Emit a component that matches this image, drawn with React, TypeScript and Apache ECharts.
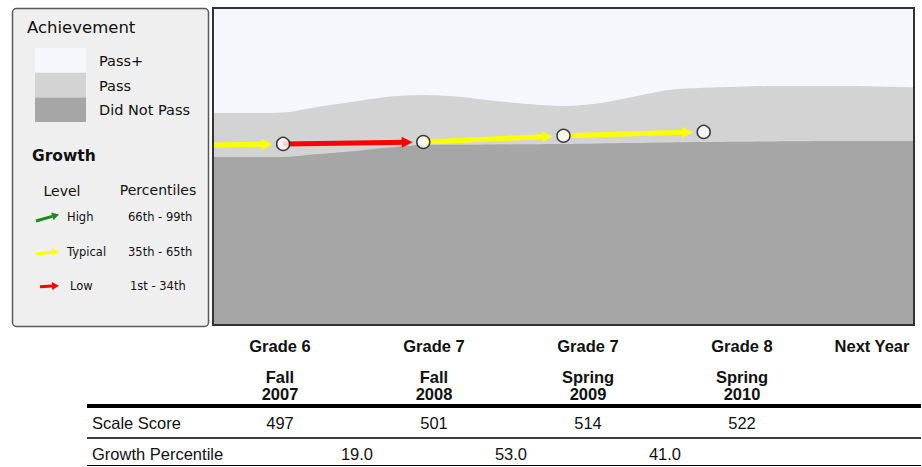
import React, { useEffect, useRef } from "react";
import * as echarts from "echarts";

// ---- data ----
const gradeLabels = ["Grade 6", "Grade 7", "Grade 7", "Grade 8", "Next Year"];
const seasonLabels = ["Fall", "Fall", "Spring", "Spring", ""];
const yearLabels = ["2007", "2008", "2009", "2010", ""];
const scaleScores = [497, 501, 514, 522];
const growthPercentiles = [19.0, 53.0, 41.0];
const priorScore = 495;
const priorPercentile = 50;

// achievement band boundaries (x in period index units)
const bandX = [-0.5, -0.25, 0, 0.25, 0.5, 0.75, 1, 1.25, 1.5, 1.75, 2, 2.25, 2.5, 2.75, 3, 3.25, 3.5, 4, 4.5];
const passCut = [470, 470, 470, 476, 482, 489.6, 494.8, 495.2, 495.8, 496.4, 496.8, 497.9, 498.9, 500, 501, 501.6, 502.3, 503.1, 503.1];
const passPlusCut = [561.4, 561.4, 562.4, 574.5, 584.9, 595.3, 598.9, 595.3, 587, 580.1, 576, 581.6, 595.3, 609.3, 614.1, 616.2, 617.6, 617.6, 614.9];

const achievementLevels = ["Pass+", "Pass", "Did Not Pass"];
const achievementColors = ["#f6f7fc", "#d3d3d3", "#a6a6a6"];
const growthLevels = ["High", "Typical", "Low"];
const growthRanges = ["66th - 99th", "35th - 65th", "1st - 34th"];
const growthColors = ["#1a8a1a", "#ffff00", "#ff0000"];

const Y_MIN = 120;
const Y_MAX = 780;

function levelColor(p: number) {
  if (p >= 66) return growthColors[0];
  if (p >= 35) return growthColors[1];
  return growthColors[2];
}

const LEG_FONT = "DejaVu Sans";
const TAB_FONT = "Liberation Sans";

function txt(x: number, y: number, text: string, o: any = {}) {
  return {
    type: "text",
    x,
    y,
    z: 100,
    style: {
      text,
      fill: o.fill || "#111",
      fontFamily: o.family || LEG_FONT,
      fontSize: o.size || 14,
      fontWeight: o.weight || "normal",
      textAlign: o.align || "left",
      textVerticalAlign: "middle",
    },
  };
}

function arrow(x1: number, y1: number, x2: number, y2: number, color: string, w: number, hl: number, hw: number) {
  const dx = x2 - x1;
  const dy = y2 - y1;
  const len = Math.sqrt(dx * dx + dy * dy);
  const ux = dx / len;
  const uy = dy / len;
  const bx = x2 - ux * hl;
  const by = y2 - uy * hl;
  return [
    { type: "line", z: 100, shape: { x1, y1, x2: bx, y2: by }, style: { stroke: color, lineWidth: w } },
    {
      type: "polygon",
      z: 100,
      shape: {
        points: [
          [x2, y2],
          [bx - uy * hw, by + ux * hw],
          [bx + uy * hw, by - ux * hw],
        ],
      },
      style: { fill: color },
    },
  ];
}

export default function App() {
  const ref = useRef<HTMLDivElement>(null);
  useEffect(() => {
    if (!ref.current) return;
    const chart = echarts.init(ref.current, undefined, { renderer: "svg" });

    const gridL = 213, gridT = 8, gridW = 701, gridH = 317;

    // growth arrows
    const segs: any[] = [];
    const starts = [[-0.5, priorScore]].concat(scaleScores.slice(0, -1).map((s, i) => [i, s]));
    const pcts = [priorPercentile].concat(growthPercentiles);
    const shorten = 0.115;
    scaleScores.forEach((s, i) => {
      const [x0, y0] = starts[i];
      const x1 = i;
      const frac = (x1 - shorten - x0) / (x1 - x0);
      segs.push({
        coords: [
          [x0, y0],
          [x1 - shorten, y0 + (s - y0) * frac],
        ],
        lineStyle: { color: levelColor(pcts[i]) },
      });
    });

    const graphic: any[] = [];
    // legend box
    graphic.push({
      type: "rect",
      z: 90,
      shape: { x: 12.5, y: 8.5, width: 196, height: 318, r: 4 },
      style: { fill: "#efefef", stroke: "#5a5a5a", lineWidth: 1.5 },
    });
    graphic.push(txt(27, 27, "Achievement", { size: 16.5 }));
    achievementLevels.forEach((lab, i) => {
      graphic.push({
        type: "rect",
        z: 100,
        shape: { x: 35, y: 48 + i * 24.7, width: 51, height: 24.7 },
        style: { fill: achievementColors[i] },
      });
      graphic.push(txt(99, 61 + i * 24.5, lab, { size: 14.5 }));
    });
    graphic.push(txt(32, 156, "Growth", { size: 15.5, weight: "bold" }));
    graphic.push(txt(62, 191, "Level", { size: 14, align: "center" }));
    graphic.push(txt(158, 190, "Percentiles", { size: 14, align: "center" }));
    const legArrowY = [217, 252, 285.5];
    const legArrowRise = [6, 2, 0.5];
    growthLevels.forEach((lab, i) => {
      const y = legArrowY[i];
      const x1 = i === 2 ? 40 : 36;
      graphic.push(...arrow(x1, y + legArrowRise[i] / 2 + 1, 59, y - legArrowRise[i] / 2 + 0.5, growthColors[i], 3, 7, 4));
      graphic.push(txt(i === 2 ? 70 : 67, y, lab, { size: 11.5 }));
      graphic.push(txt(i === 2 ? 130 : 128, y, growthRanges[i], { size: 11.5 }));
    });

    // plot border
    graphic.push({
      type: "rect",
      z: 100,
      shape: { x: gridL, y: gridT, width: gridW, height: gridH },
      style: { fill: "none", stroke: "#333", lineWidth: 2 },
    });

    // table
    const colX = [280, 434, 588, 742, 872];
    gradeLabels.forEach((g, i) => {
      graphic.push(txt(colX[i], 346, g, { family: TAB_FONT, size: 16.5, weight: "bold", align: "center" }));
      if (seasonLabels[i]) graphic.push(txt(colX[i], 376.5, seasonLabels[i], { family: TAB_FONT, size: 16.5, weight: "bold", align: "center" }));
      if (yearLabels[i]) graphic.push(txt(colX[i], 393.5, yearLabels[i], { family: TAB_FONT, size: 16.5, weight: "bold", align: "center" }));
    });
    graphic.push({ type: "line", z: 100, shape: { x1: 87, y1: 406, x2: 921, y2: 406 }, style: { stroke: "#000", lineWidth: 4 } });
    graphic.push(txt(92, 422.5, "Scale Score", { family: TAB_FONT, size: 16.5 }));
    scaleScores.forEach((s, i) => {
      graphic.push(txt(colX[i], 422.5, String(s), { family: TAB_FONT, size: 16.5, align: "center" }));
    });
    graphic.push({ type: "line", z: 100, shape: { x1: 87, y1: 438, x2: 921, y2: 438 }, style: { stroke: "#000", lineWidth: 1.5 } });
    graphic.push(txt(92, 453.5, "Growth Percentile", { family: TAB_FONT, size: 16.5 }));
    growthPercentiles.forEach((p, i) => {
      graphic.push(txt((colX[i] + colX[i + 1]) / 2, 453.5, p.toFixed(1), { family: TAB_FONT, size: 16.5, align: "center" }));
    });
    graphic.push({ type: "line", z: 100, shape: { x1: 87, y1: 465.5, x2: 921, y2: 465.5 }, style: { stroke: "#000", lineWidth: 1.2 } });

    chart.setOption({
      animation: false,
      grid: { left: gridL, top: gridT, width: gridW, height: gridH, show: true, backgroundColor: achievementColors[0], borderWidth: 0 },
      xAxis: { type: "value", min: -0.5, max: 4.5, show: false },
      yAxis: { type: "value", min: Y_MIN, max: Y_MAX, show: false },
      series: [
        {
          type: "line",
          name: "Pass",
          data: bandX.map((x, i) => [x, passPlusCut[i]]),
          smooth: 0.3,
          symbol: "none",
          lineStyle: { width: 0 },
          areaStyle: { color: achievementColors[1], opacity: 1, origin: "start" },
          z: 1,
        },
        {
          type: "line",
          name: "Did Not Pass",
          data: bandX.map((x, i) => [x, passCut[i]]),
          smooth: 0.3,
          symbol: "none",
          lineStyle: { width: 0 },
          areaStyle: { color: achievementColors[2], opacity: 1, origin: "start" },
          z: 2,
        },
        {
          type: "lines",
          coordinateSystem: "cartesian2d",
          symbol: ["none", "triangle"],
          symbolSize: 11,
          lineStyle: { width: 5, opacity: 1 },
          data: segs,
          z: 3,
        },
        {
          type: "scatter",
          data: scaleScores.map((s, i) => [i, s]),
          symbol: "circle",
          symbolSize: 13,
          itemStyle: { color: "#ffffff", borderColor: "#111", borderWidth: 1.5 },
          z: 4,
        },
      ],
      graphic,
    });
    return () => chart.dispose();
  }, []);
  return <div ref={ref} style={{ position: "fixed", left: 0, top: 0, width: 922, height: 467, background: "#fff" }} />;
}
